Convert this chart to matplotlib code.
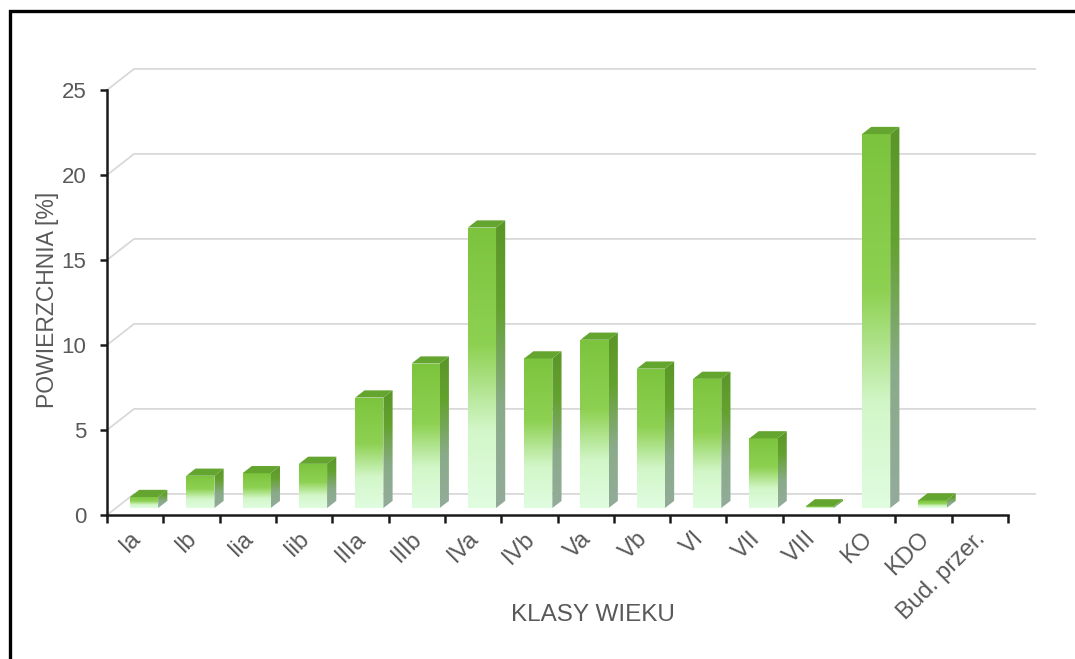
import numpy as np
import matplotlib.pyplot as plt
from matplotlib.patches import Polygon, Rectangle
from matplotlib.colors import LinearSegmentedColormap

plt.rcParams['font.family'] = ['Liberation Sans', 'DejaVu Sans']

klasy = ['Ia', 'Ib', 'Iia', 'Iib', 'IIIa', 'IIIb', 'IVa', 'IVb', 'Va', 'Vb',
         'VI', 'VII', 'VIII', 'KO', 'KDO', 'Bud. przer.']
powierzchnia = [0.65, 1.9, 2.05, 2.6, 6.5, 8.5, 16.5, 8.8, 9.9, 8.2,
                7.6, 4.1, 0.1, 22.0, 0.45, 0.0]
yticks = [0, 5, 10, 15, 20, 25]

# 3d look: offset of the back wall (data units) and bar placement
DX, DY = 0.48, 1.24
d_front, d_back = 0.33, 0.67
bar_w = 0.5

front_cmap = LinearSegmentedColormap.from_list(
    'front', [(0, '#e0fde0'), (0.28, '#d2f6c8'), (0.58, '#8ed152'), (1, '#7cc43d')])
side_cmap = LinearSegmentedColormap.from_list(
    'side', [(0, '#93ac9a'), (0.35, '#8aab8a'), (0.7, '#64a22f'), (1, '#5a9628')])

fig = plt.figure(figsize=(10.75, 6.59), dpi=100)
ax = fig.add_axes([107 / 1075, 1 - 515 / 659, (1008 - 107) / 1075, 425 / 659])
n = len(klasy)


def gradient_face(xy, cmap, z):
    patch = Polygon(xy, closed=True, facecolor='none', edgecolor='none')
    ax.add_patch(patch)
    xs = [p[0] for p in xy]
    ys = [p[1] for p in xy]
    grad = np.linspace(0, 1, 256).reshape(-1, 1)
    im = ax.imshow(grad, cmap=cmap, origin='lower', aspect='auto',
                   extent=[min(xs), max(xs), min(ys), max(ys)],
                   interpolation='bilinear', zorder=z)
    im.set_clip_path(patch)


# back wall grid + side wall diagonals
for v in yticks:
    ax.plot([0, DX, n + DX], [v, v + DY, v + DY], color='#d9d9d9', lw=1.3,
            clip_on=False, zorder=1)

for i, v in enumerate(powierzchnia):
    if v <= 0:
        continue
    x0 = i + 0.5 - bar_w / 2 + d_front * DX
    x1 = x0 + bar_w
    y0 = d_front * DY
    y1 = v + d_front * DY
    dx = (d_back - d_front) * DX
    dy = (d_back - d_front) * DY
    gradient_face([(x0, y0), (x1, y0), (x1, y1), (x0, y1)], front_cmap, 3)
    gradient_face([(x1, y0), (x1 + dx, y0 + dy), (x1 + dx, y1 + dy), (x1, y1)],
                  side_cmap, 3)
    ax.add_patch(Polygon([(x0, y1), (x1, y1), (x1 + dx, y1 + dy), (x0 + dx, y1 + dy)],
                         closed=True, facecolor='#63a52e', edgecolor='none', zorder=4))

ax.set_xlim(0, n)
ax.set_ylim(0, 25)
ax.set_facecolor('none')
for s in ['top', 'right']:
    ax.spines[s].set_visible(False)
for s in ['left', 'bottom']:
    ax.spines[s].set_color('#1a1a1a')
    ax.spines[s].set_linewidth(1.8)
    ax.spines[s].set_zorder(5)

ax.set_yticks(yticks)
ax.set_yticklabels([str(t) for t in yticks])
ax.tick_params(axis='y', direction='out', length=5, width=1.8, color='#1a1a1a',
               pad=10, labelsize=16, labelcolor='#595959')

ax.set_xticks(np.arange(n + 1))
ax.set_xticklabels([])
ax.set_xticks(np.arange(n) + 0.4, minor=True)
ax.set_xticklabels(klasy, minor=True, rotation=45, ha='right', va='top',
                   rotation_mode='anchor')
ax.tick_params(axis='x', which='major', direction='out', length=6, width=1.8,
               color='#1a1a1a')
ax.tick_params(axis='x', which='minor', length=0, pad=9, labelsize=17,
               labelcolor='#595959')

fig.text(48 / 1075, 1 - 300 / 659, 'POWIERZCHNIA [%]', rotation=90, ha='center',
         va='center', fontsize=16.5, color='#595959')
fig.text(593 / 1075, 1 - 615 / 659, 'KLASY WIEKU', ha='center', va='center',
         fontsize=17.5, color='#595959')

# outer frame (cut at the right and bottom edge)
fig.add_artist(Rectangle((10 / 1075, -0.1), 1.2, 1.1 - 11 / 659, transform=fig.transFigure,
                         fill=False, edgecolor='black', lw=2.4))

fig.savefig('out.png', dpi=100)
